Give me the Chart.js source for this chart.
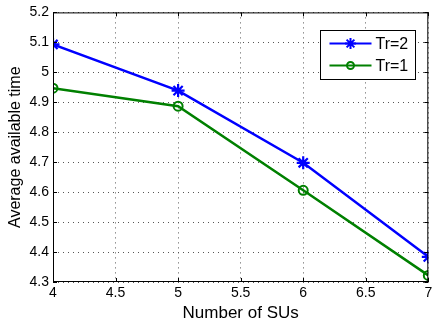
<!DOCTYPE html>
<html>
<head>
<meta charset="utf-8">
<script src="https://cdn.jsdelivr.net/npm/chart.js@4"></script>
<style>
  html, body { margin: 0; padding: 0; background: #fff; }
  #wrap { width: 437px; height: 324px; }
</style>
</head>
<body>
<div id="wrap"><canvas id="chart" width="437" height="324"></canvas></div>
<script>
const numSUs = [4, 5, 6, 7];
const tr2 = [5.093, 4.939, 4.698, 4.384];
const tr1 = [4.947, 4.887, 4.606, 4.322];
const seriesNames = ['Tr=2', 'Tr=1'];

const FONT = 'Liberation Sans, Arial, Helvetica, sans-serif';

function toPoints(xs, ys) {
  return xs.map((x, i) => ({ x: x, y: ys[i] }));
}

// box round the plot + inward tick marks + legend, drawn like matlab
const matlabFrame = {
  id: 'matlabFrame',
  afterDraw(chart) {
    const ctx = chart.ctx;
    const a = chart.chartArea;
    const xs = chart.scales.x, ys = chart.scales.y;
    ctx.save();
    ctx.strokeStyle = '#000';
    ctx.lineWidth = 1;
    ctx.strokeRect(a.left + 0.5, a.top + 0.5, a.right - a.left - 1, a.bottom - a.top - 1);
    ctx.beginPath();
    xs.ticks.forEach(t => {
      const px = Math.round(xs.getPixelForValue(t.value)) + 0.5;
      ctx.moveTo(px, a.bottom); ctx.lineTo(px, a.bottom - 4);
      ctx.moveTo(px, a.top); ctx.lineTo(px, a.top + 4);
    });
    ys.ticks.forEach(t => {
      const py = Math.round(ys.getPixelForValue(t.value)) + 0.5;
      ctx.moveTo(a.left, py); ctx.lineTo(a.left + 4, py);
      ctx.moveTo(a.right, py); ctx.lineTo(a.right - 4, py);
    });
    ctx.stroke();

    // legend
    const bx = 320.5, by = 30.5, bw = 95, bh = 49;
    ctx.fillStyle = '#fff';
    ctx.fillRect(bx, by, bw, bh);
    ctx.strokeRect(bx, by, bw, bh);
    ctx.font = '16px ' + FONT;
    ctx.textBaseline = 'middle';
    chart.data.datasets.forEach((ds, i) => {
      const y = by + 13 + i * 22;
      ctx.strokeStyle = ds.borderColor;
      ctx.lineWidth = 2;
      ctx.beginPath();
      ctx.moveTo(bx + 9, y); ctx.lineTo(bx + 51, y);
      ctx.stroke();
      ctx.fillStyle = 'rgba(0,0,0,0)';
      Chart.helpers.drawPoint(ctx, {
        pointStyle: ds.pointStyle, radius: ds.pointRadius - 1,
        borderWidth: 2, rotation: 0
      }, bx + 30, y);
      ctx.fillStyle = '#000';
      ctx.fillText(ds.label, bx + 55, y + 1);
    });
    ctx.restore();
  }
};

new Chart(document.getElementById('chart'), {
  type: 'line',
  data: {
    datasets: [
      {
        label: seriesNames[0],
        data: toPoints(numSUs, tr2),
        borderColor: '#0000ff',
        backgroundColor: '#0000ff',
        borderWidth: 2.5,
        pointStyle: 'star',
        pointRadius: 6.5,
        pointBorderWidth: 2.2,
        tension: 0
      },
      {
        label: seriesNames[1],
        data: toPoints(numSUs, tr1),
        borderColor: '#008000',
        backgroundColor: 'rgba(0,0,0,0)',
        borderWidth: 2.5,
        pointStyle: 'circle',
        pointRadius: 4.5,
        pointBorderWidth: 2,
        tension: 0
      }
    ]
  },
  options: {
    responsive: false,
    animation: false,
    layout: { padding: { top: 8, right: 4, left: 6, bottom: 0 } },
    plugins: {
      legend: { display: false },
      tooltip: { enabled: false }
    },
    scales: {
      x: {
        type: 'linear',
        min: 4, max: 7,
        ticks: { stepSize: 0.5, color: '#000', font: { family: FONT, size: 14 }, padding: 3, maxRotation: 0,
          callback: v => String(Math.round(v * 10) / 10) },
        grid: { color: '#555', lineWidth: 1, drawTicks: false },
        border: { display: false, dash: [1, 4] },
        title: { display: true, text: 'Number of SUs', color: '#000', font: { family: FONT, size: 17 }, padding: { top: 0, bottom: 0 } },
        afterFit(s) { s.height = 42; }
      },
      y: {
        min: 4.3, max: 5.2,
        ticks: { stepSize: 0.1, color: '#000', font: { family: FONT, size: 14 }, padding: 4,
          callback: v => String(Math.round(v * 10) / 10) },
        grid: { color: '#555', lineWidth: 1, drawTicks: false },
        border: { display: false, dash: [1, 4] },
        title: { display: true, text: 'Average available time', color: '#000', font: { family: FONT, size: 16 }, padding: { top: 0, bottom: 0 } },
        afterFit(s) { s.width = 47; }
      }
    }
  },
  plugins: [matlabFrame]
});
</script>
</body>
</html>
